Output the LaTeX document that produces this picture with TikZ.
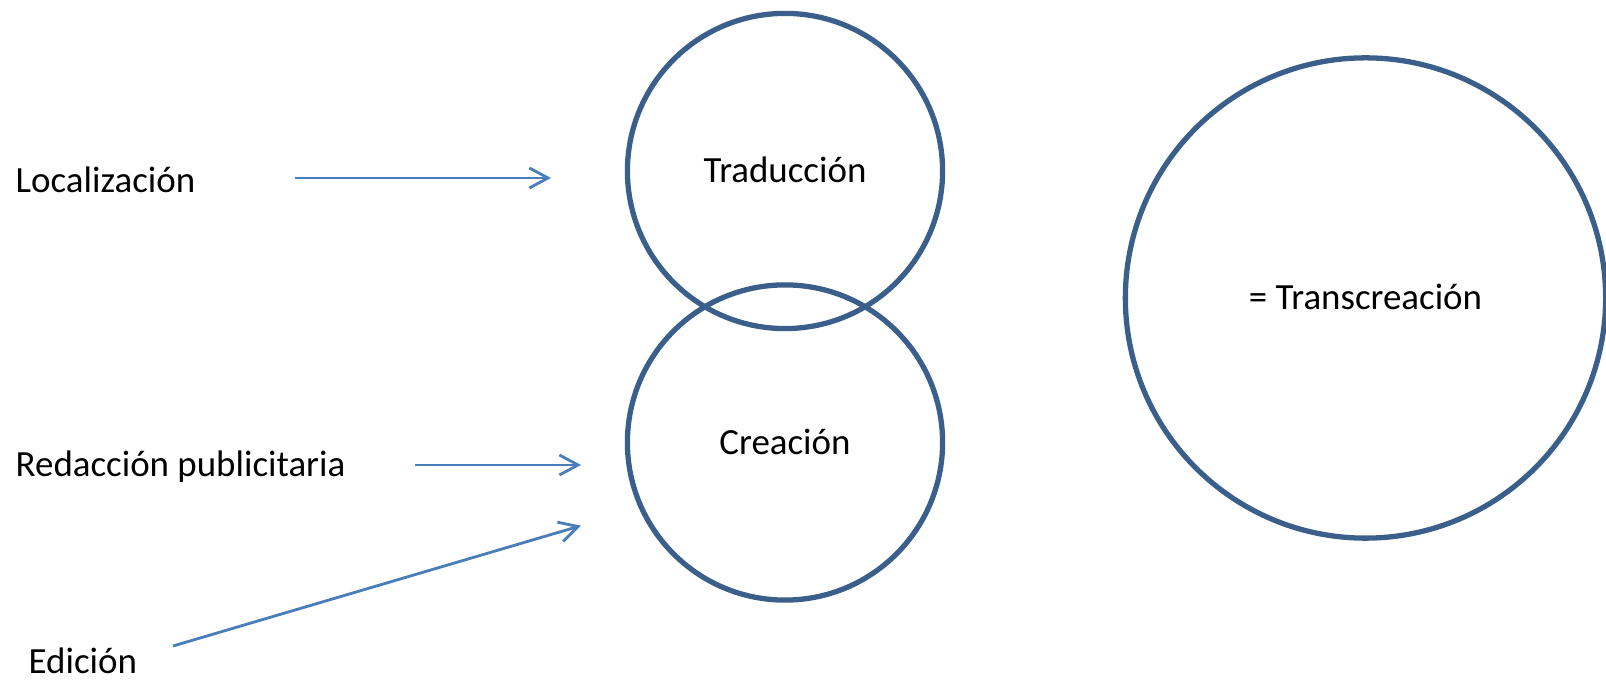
\documentclass[tikz,border=0pt]{standalone}
\usepackage{fontspec}
\setmainfont{Carlito}
\usetikzlibrary{arrows.meta}
\usetikzlibrary{calc}

\definecolor{arrowblue}{HTML}{4A7EBB}
\definecolor{ringblue}{HTML}{3A5F8B}

\tikzset{
	ring/.style={circle, draw=ringblue, line width=1.5pt, inner sep=0pt, text height=6.8pt, text depth=0pt},
	word/.style={anchor=base west, inner sep=0pt},
	feed/.style={draw=arrowblue, line width=0.8pt, -{Straight Barb[length=5.3pt,width=5.7pt]}}
}

\begin{document}
\begin{tikzpicture}[x=0.01cm, y=-0.01cm, font=\fontsize{10.5}{12.6}\selectfont]
		\useasboundingbox (0,0) rectangle (1606,680);
		%circles
		\node[ring, minimum size=3.15cm] (trad) at (785,171) {Traducción};
		\node[ring, minimum size=3.15cm] (crea) at (785,442.5) {Creación};
		\node[ring, minimum size=4.8cm] (trans) at (1365.5,298) {= Transcreación};
		%labels on the left
		\node[word] (loc) at (15,192.3) {Localización};
		\node[word] (red) at (15,476.7) {Redacción publicitaria};
		\node[word] (edi) at (28,674) {Edición};
		%arrows
		\coordinate (loc-a) at (295,178);
		\coordinate (loc-b) at (551,178);
		\coordinate (red-a) at (415,465);
		\coordinate (red-b) at (581,465);
		\coordinate (edi-a) at (173,646);
		\coordinate (edi-b) at (581,525.7);
		\draw[feed] (loc-a) -- (loc-b);
		\draw[feed] (red-a) -- (red-b);
		\draw[feed] (edi-a) -- (edi-b);
		\end{tikzpicture}
\end{document}
